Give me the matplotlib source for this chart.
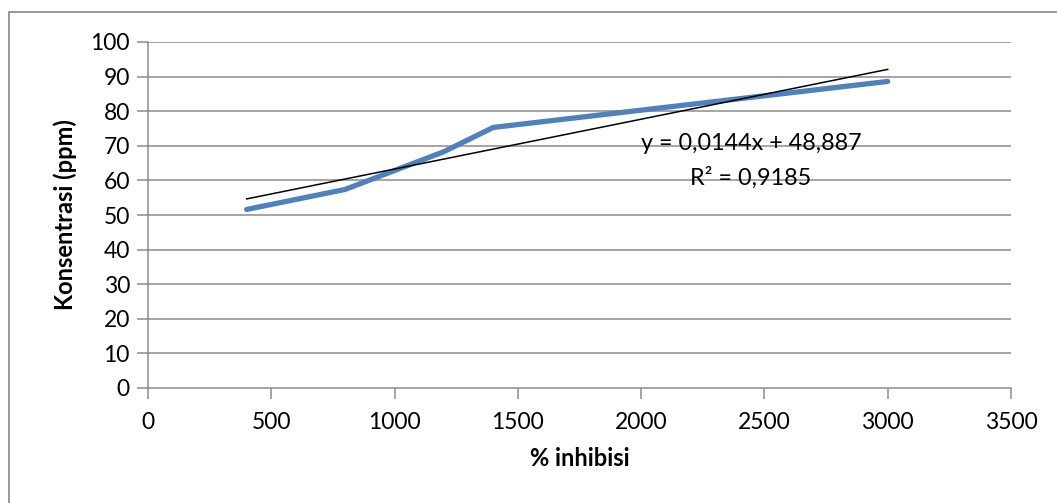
import numpy as np
import matplotlib
matplotlib.use('Agg')
import matplotlib.pyplot as plt
from matplotlib.patches import Rectangle

# measured series
inhibisi = [400, 800, 1200, 1400, 2000, 3000]
konsentrasi = [51.6, 57.4, 68.3, 75.3, 80.3, 88.6]

# linear trendline as reported
slope = 0.0144
intercept = 48.887
eq_label = 'y = 0,0144x + 48,887'
r2_label = 'R² = 0,9185'

xticks = [0, 500, 1000, 1500, 2000, 2500, 3000, 3500]
yticks = [0, 10, 20, 30, 40, 50, 60, 70, 80, 90, 100]

plt.rcParams['font.family'] = ['Lato', 'DejaVu Sans']

fig = plt.figure(figsize=(10.57, 5.03), dpi=100)
ax = fig.add_axes([148/1057, 1-388/503, (1011-148)/1057, (388-42)/503])

# outer chart border
fig.patches.append(Rectangle((9/1057, -0.05), 1.2, 1-12/503+0.05, transform=fig.transFigure,
                             fill=False, edgecolor='#878787', linewidth=1.2))

grid_col = '#8c8c8c'
for yv in yticks[1:]:
    ax.axhline(yv, color=grid_col, linewidth=1.1, zorder=1)

ax.plot(inhibisi, konsentrasi, color='#4f81bd', linewidth=3.8, solid_capstyle='round',
        solid_joinstyle='round', zorder=3)

xt = np.array([inhibisi[0], inhibisi[-1]])
ax.plot(xt, slope * xt + intercept, color='black', linewidth=1.1, zorder=4)

ax.text(2445, 70.8, eq_label, fontsize=16.8, ha='center', va='center', zorder=5)
ax.text(2445, 60.8, r2_label, fontsize=16.8, ha='center', va='center', zorder=5)

ax.set_xlim(0, 3500)
ax.set_ylim(0, 100)
ax.set_xticks(xticks)
ax.set_yticks(yticks)
ax.tick_params(axis='both', labelsize=16.5, color=grid_col, length=8, width=1.1, direction='out')
ax.tick_params(axis='x', pad=9)
ax.tick_params(axis='y', pad=5)

for side in ['top', 'right']:
    ax.spines[side].set_visible(False)
for side in ['left', 'bottom']:
    ax.spines[side].set_color(grid_col)
    ax.spines[side].set_linewidth(1.1)

ax.set_xlabel('% inhibisi', fontsize=17, fontweight='bold', labelpad=10)
ax.set_ylabel('Konsentrasi (ppm)', fontsize=17, fontweight='bold', labelpad=10)

fig.savefig('out.png', dpi=100)
